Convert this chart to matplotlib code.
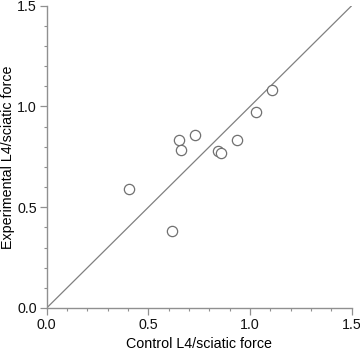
import numpy as np
import matplotlib
matplotlib.use("Agg")
from matplotlib import pyplot as plt
from matplotlib.ticker import MultipleLocator

# Control vs experimental L4/sciatic force ratios
control = [0.406, 0.615, 0.652, 0.659, 0.729, 0.844, 0.856, 0.936, 1.030, 1.110]
experimental = [0.588, 0.382, 0.833, 0.783, 0.859, 0.780, 0.767, 0.831, 0.970, 1.081]

# Line of identity
identity = [0.0, 1.5]

plt.rcParams["font.family"] = ["Liberation Sans", "DejaVu Sans"]

fig = plt.figure(figsize=(3.6, 3.53), dpi=100)
ax = fig.add_axes([0.1297, 0.1275, 0.8473, 0.8565])

ax.plot(identity, identity, color="#808080", linewidth=0.9, zorder=1)
ax.plot(control, experimental, linestyle="none", marker="o", markersize=7.4,
        markerfacecolor="white", markeredgecolor="#707070", markeredgewidth=0.9,
        zorder=2)

ax.set_xlim(0, 1.5)
ax.set_ylim(0, 1.5)
ax.xaxis.set_major_locator(MultipleLocator(0.5))
ax.yaxis.set_major_locator(MultipleLocator(0.5))
ax.xaxis.set_minor_locator(MultipleLocator(0.1))
ax.yaxis.set_minor_locator(MultipleLocator(0.1))
ax.xaxis.set_major_formatter(plt.FormatStrFormatter("%.1f"))
ax.yaxis.set_major_formatter(plt.FormatStrFormatter("%.1f"))

for side in ["top", "right"]:
    ax.spines[side].set_visible(False)
for side in ["left", "bottom"]:
    ax.spines[side].set_color("#909090")
    ax.spines[side].set_linewidth(1.0)

ax.tick_params(which="major", length=5, width=0.9, color="#909090",
               labelsize=10.3, labelcolor="#111111", pad=2)
ax.tick_params(which="minor", length=2.5, width=0.8, color="#909090")

ax.set_xlabel("Control L4/sciatic force", fontsize=10.3, labelpad=4)
ax.set_ylabel("Experimental L4/sciatic force", fontsize=10.3, labelpad=1.5)

fig.savefig("out.png", dpi=100)
